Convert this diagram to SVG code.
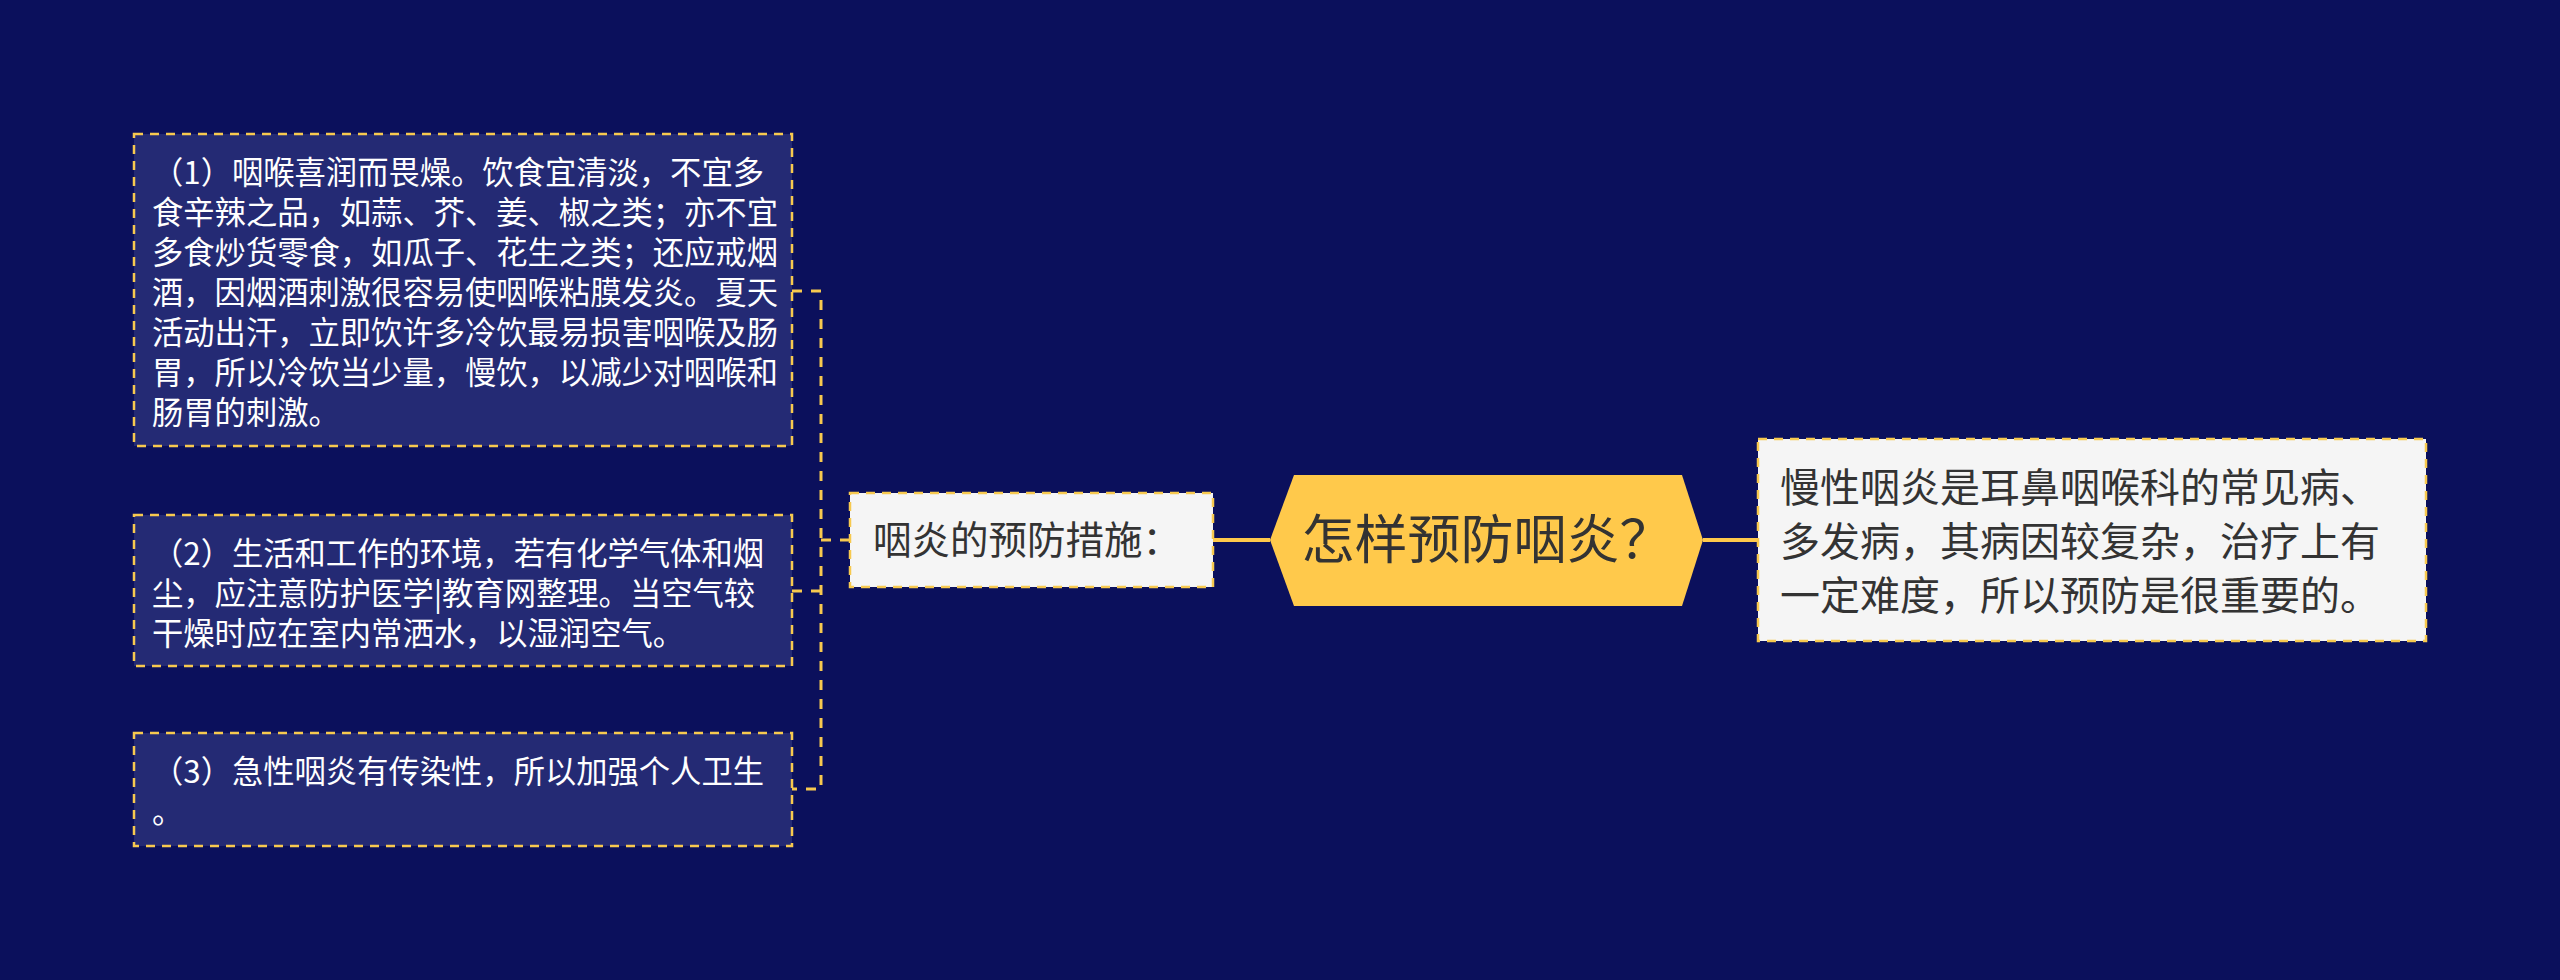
<svg xmlns="http://www.w3.org/2000/svg" width="2560" height="980" viewBox="0 0 2560 980">
<style>
.bg{fill:#0b105c}
.dark{fill:#242a74;stroke:#f7c94f;stroke-width:2.5;stroke-dasharray:9 7}
.light{fill:#f5f5f5;stroke:#f7c94f;stroke-width:2.5;stroke-dasharray:9 7}
.wt{font-family:"Noto Sans CJK SC","Noto Sans",sans-serif;font-size:31.3px;fill:#ffffff}
.dt{font-family:"Noto Sans CJK SC","Noto Sans",sans-serif;fill:#333333}
.dash{fill:none;stroke:#f7c94f;stroke-width:3;stroke-dasharray:10 9}
.solid{fill:none;stroke:#ffc94b;stroke-width:4}
</style>
<rect class="bg" x="0" y="0" width="2560" height="980"/>
<g id="connectors">
<path class="dash" d="M792 291 H821 V789 H792"/>
<path class="dash" d="M821 591 H792"/>
<path class="dash" d="M821 540 H850"/>
<path class="solid" d="M1213 540 H1270"/>
<path class="solid" d="M1703 540 H1758"/>
</g>
<g id="root">
<polygon points="1270,540 1294,475 1682,475 1703,540 1682,606 1294,606" fill="#ffc94b"/>
<text class="dt" x="1487" y="559" font-size="53" text-anchor="middle">怎样预防咽炎？</text>
</g>
<g id="desc">
<rect class="light" x="1758" y="439" width="668" height="202"/>
<text class="dt" font-size="40">
<tspan x="1780" y="502">慢性咽炎是耳鼻咽喉科的常见病、</tspan>
<tspan x="1780" y="556">多发病，其病因较复杂，治疗上有</tspan>
<tspan x="1780" y="610">一定难度，所以预防是很重要的。</tspan>
</text>
</g>
<g id="measures">
<rect class="light" x="850" y="493" width="363" height="94"/>
<text class="dt" x="873" y="554" font-size="38.5">咽炎的预防措施：</text>
</g>
<g id="item1">
<rect class="dark" x="134" y="134" width="658" height="312"/>
<text class="wt">
<tspan x="152" y="184">（1）咽喉喜润而畏燥。饮食宜清淡，不宜多</tspan>
<tspan x="152" y="224">食辛辣之品，如蒜、芥、姜、椒之类；亦不宜</tspan>
<tspan x="152" y="264">多食炒货零食，如瓜子、花生之类；还应戒烟</tspan>
<tspan x="152" y="304">酒，因烟酒刺激很容易使咽喉粘膜发炎。夏天</tspan>
<tspan x="152" y="344">活动出汗，立即饮许多冷饮最易损害咽喉及肠</tspan>
<tspan x="152" y="384">胃，所以冷饮当少量，慢饮，以减少对咽喉和</tspan>
<tspan x="152" y="424">肠胃的刺激。</tspan>
</text>
</g>
<g id="item2">
<rect class="dark" x="134" y="515" width="658" height="151"/>
<text class="wt">
<tspan x="152" y="565">（2）生活和工作的环境，若有化学气体和烟</tspan>
<tspan x="152" y="605">尘，应注意防护医学|教育网整理。当空气较</tspan>
<tspan x="152" y="645">干燥时应在室内常洒水，以湿润空气。</tspan>
</text>
</g>
<g id="item3">
<rect class="dark" x="134" y="733" width="658" height="113"/>
<text class="wt">
<tspan x="152" y="783">（3）急性咽炎有传染性，所以加强个人卫生</tspan>
<tspan x="152" y="823">。</tspan>
</text>
</g>
</svg>
